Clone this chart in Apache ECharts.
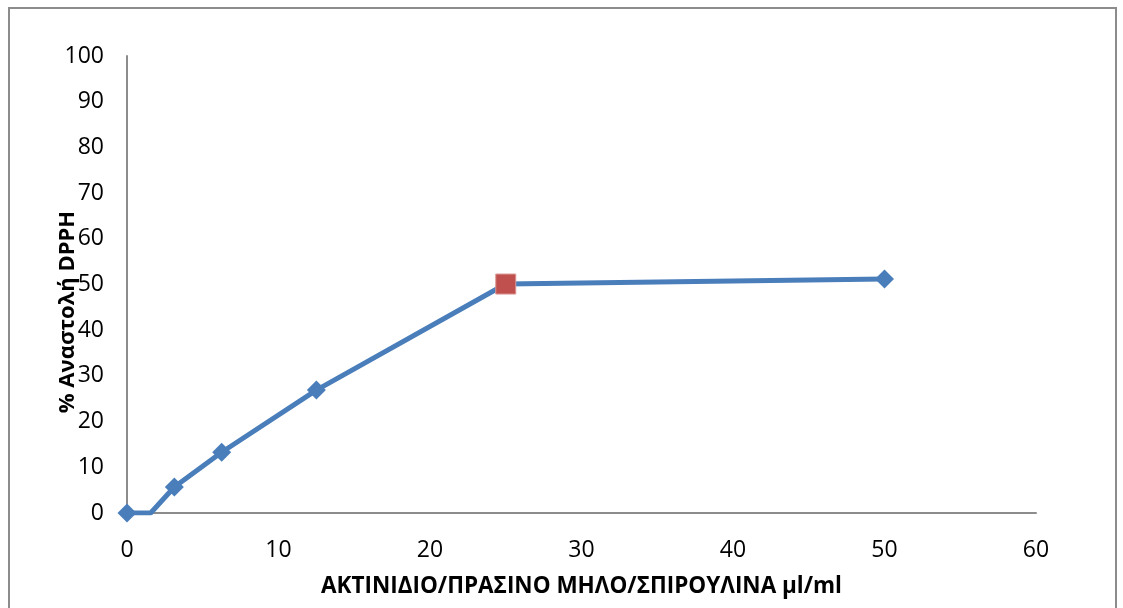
<!DOCTYPE html>
<html>
<head>
<meta charset="utf-8">
<script src="https://cdn.jsdelivr.net/npm/echarts@6/dist/echarts.min.js"></script>
<style>
  html, body { margin: 0; padding: 0; background: #fff; }
  #frame { position: absolute; left: 8px; top: 7px; width: 1109px; height: 620px; border: 2px solid #8c8c8c; box-sizing: border-box; }
  #chart { position: absolute; left: 0; top: 0; width: 1123px; height: 608px; }
</style>
</head>
<body>
<div id="frame"></div>
<div id="chart"></div>
<script>
// Concentration (μl/ml) and % DPPH inhibition
const concentrations = [0, 1.5625, 3.125, 6.25, 12.5, 25, 50];
const inhibition = [0, 0, 5.7, 13.3, 26.9, 50.1, 51.2];
// Points drawn without a marker, and the IC50 point highlighted in red
const hiddenMarkerIndex = [1];
const highlightIndex = 5;

const xName = 'ΑΚΤΙΝΙΔΙΟ/ΠΡΑΣΙΝΟ ΜΗΛΟ/ΣΠΙΡΟΥΛΙΝΑ μl/ml';
const yName = '% Αναστολή DPPH';

const blue = '#4A7EBB';
const red = '#C0504D';
const font = '"Open Sans", sans-serif';

const seriesData = concentrations.map((x, i) => {
  const item = { value: [x, inhibition[i]] };
  if (hiddenMarkerIndex.includes(i)) item.symbolSize = 0;
  if (i === highlightIndex) {
    item.symbol = 'rect';
    item.symbolSize = 20;
    item.itemStyle = { color: red, borderColor: '#D99694', borderWidth: 1 };
  }
  return item;
});

const chart = echarts.init(document.getElementById('chart'), null, { renderer: 'canvas' });
chart.setOption({
  animation: false,
  grid: { left: 127, top: 56, width: 909, height: 457 },
  // Y-axis title, set a little below the plot's middle
  graphic: [{
    type: 'text',
    x: 68, y: 312,
    rotation: Math.PI / 2,
    style: {
      text: yName,
      fontFamily: font, fontSize: 22, fontWeight: 'bold', fill: '#000',
      align: 'center', verticalAlign: 'middle'
    }
  }],
  xAxis: {
    type: 'value', min: 0, max: 60, interval: 10,
    name: xName, nameLocation: 'middle', nameGap: 62, nameMoveOverlap: false,
    nameTextStyle: { fontFamily: font, fontSize: 22.5, fontWeight: 'bold', color: '#000' },
    axisLine: { lineStyle: { color: '#8c8c8c', width: 2 } },
    axisTick: { show: false },
    axisLabel: { fontFamily: font, fontSize: 23, color: '#000', margin: 26 },
    splitLine: { show: false }
  },
  yAxis: {
    type: 'value', min: 0, max: 100, interval: 10,
    axisLine: { show: true, lineStyle: { color: '#8c8c8c', width: 2 } },
    axisTick: { show: false },
    axisLabel: { fontFamily: font, fontSize: 23, color: '#000', margin: 23 },
    splitLine: { show: false }
  },
  series: [{
    type: 'line',
    data: seriesData,
    symbol: 'diamond',
    symbolSize: 19,
    showAllSymbol: true,
    lineStyle: { color: blue, width: 5 },
    itemStyle: { color: blue }
  }]
});
</script>
</body>
</html>
